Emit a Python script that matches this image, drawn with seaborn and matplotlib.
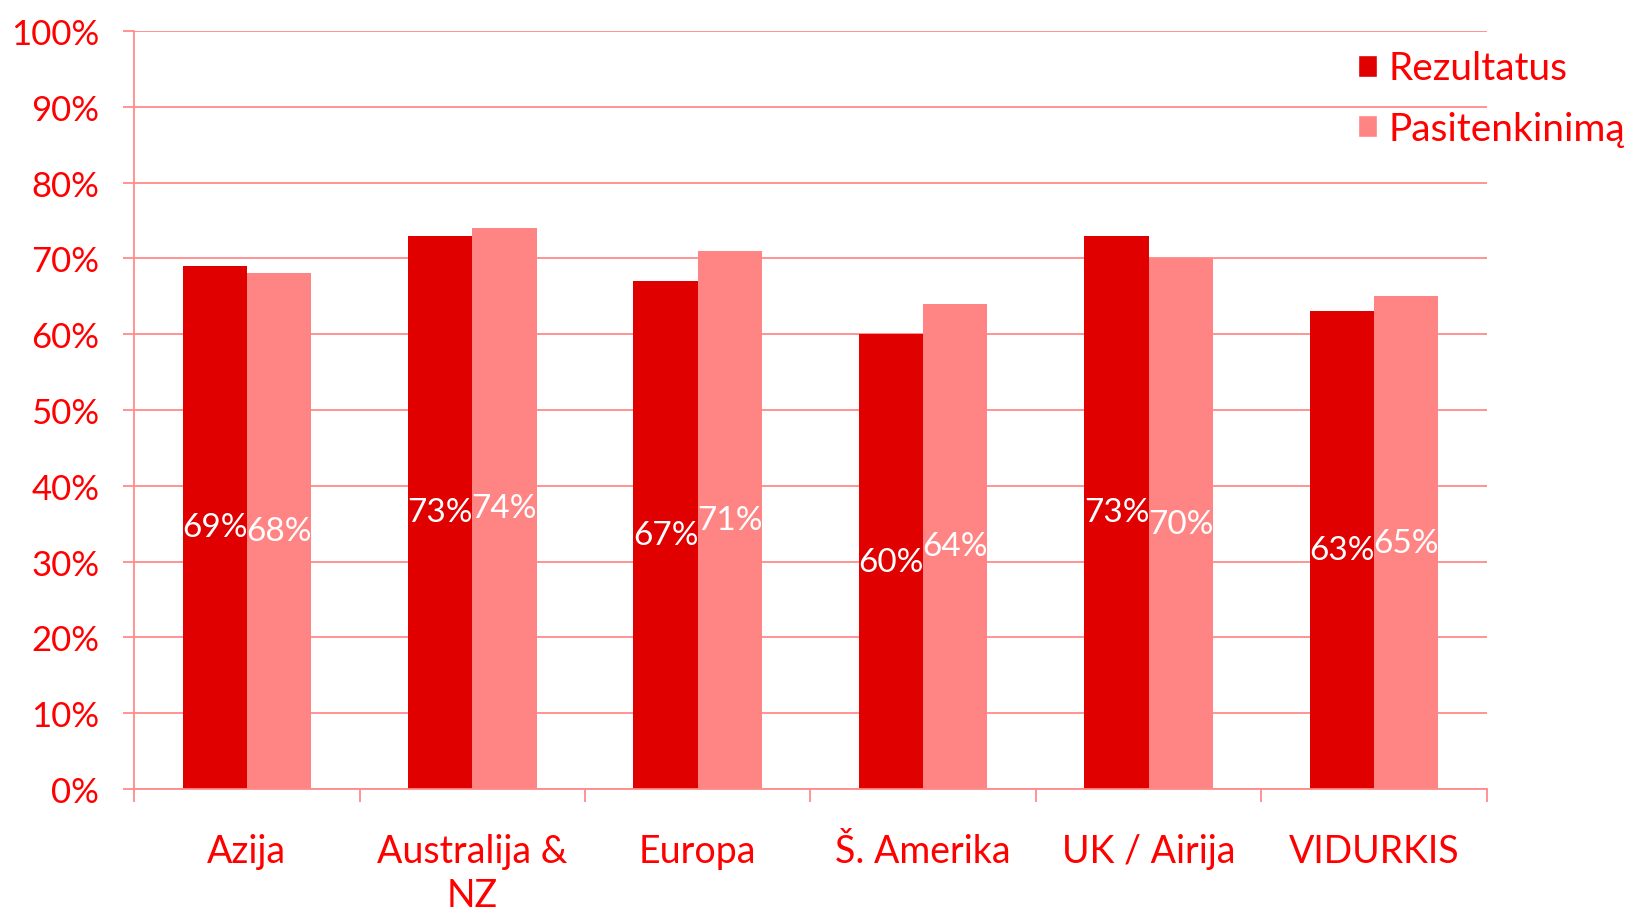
import matplotlib
matplotlib.use("Agg")
import matplotlib.pyplot as plt
import seaborn as sns
import pandas as pd
from matplotlib.ticker import FixedLocator, PercentFormatter
from matplotlib.patches import Patch

# duomenys
kategorijos = ["Azija", "Australija &\nNZ", "Europa", "Š. Amerika", "UK / Airija", "VIDURKIS"]
rezultatus = [69, 73, 67, 60, 73, 63]
pasitenkinima = [68, 74, 71, 64, 70, 65]
serijos = ["Rezultatus", "Pasitenkinimą"]

raudona = "#E00000"
rozine = "#FF8585"
tekstas = "#FF0000"
linija = "#FF8A8A"

df = pd.DataFrame({
    "kat": kategorijos * 2,
    "serija": [serijos[0]] * 6 + [serijos[1]] * 6,
    "reiksme": rezultatus + pasitenkinima,
})

sns.set_style("white")
plt.rcParams["font.family"] = ["Lato", "DejaVu Sans"]

fig = plt.figure(figsize=(16.43, 9.12), dpi=100)
ax = fig.add_axes([0.0816, 0.1338, 0.8234, 0.8312])

sns.barplot(data=df, x="kat", y="reiksme", hue="serija", order=kategorijos,
            hue_order=serijos, palette=[raudona, rozine], width=0.57,
            saturation=1, gap=0, legend=False, ax=ax, linewidth=0)

for cont in ax.containers:
    labels = [f"{int(v)}%" for v in cont.datavalues]
    ax.bar_label(cont, labels=labels, label_type="center", color="white", fontsize=24)

ax.set_ylim(0, 100)
ax.set_xlim(-0.5, 5.5)
ax.set_yticks(range(0, 101, 10))
ax.yaxis.set_major_formatter(PercentFormatter(decimals=0))
ax.yaxis.grid(True, color=linija, linewidth=1.3)
ax.set_axisbelow(True)
ax.set_xlabel("")
ax.set_ylabel("")

for s in ["top", "right"]:
    ax.spines[s].set_visible(False)
for s in ["left", "bottom"]:
    ax.spines[s].set_color(linija)
    ax.spines[s].set_linewidth(1.3)

ax.tick_params(axis="y", colors=linija, labelcolor=tekstas, labelsize=25,
               length=8, width=1.3, direction="out", left=True, pad=17)
ax.tick_params(axis="x", which="major", length=0, labelcolor=tekstas, labelsize=27, pad=32)
ax.xaxis.set_minor_locator(FixedLocator([i - 0.5 for i in range(7)]))
ax.tick_params(axis="x", which="minor", length=9, width=1.3, color=linija, bottom=True)
for t in ax.get_xticklabels():
    t.set_linespacing(1.25)
    t.set_verticalalignment("top")

rankenos = [Patch(facecolor=raudona), Patch(facecolor=rozine)]
fig.legend(rankenos, serijos, loc="upper left", bbox_to_anchor=(0.805, 0.982),
           frameon=False, fontsize=28, labelcolor=tekstas, handlelength=0.5,
           handleheight=0.5, handletextpad=0.3, labelspacing=0.62)

fig.savefig("out.png", dpi=100)
